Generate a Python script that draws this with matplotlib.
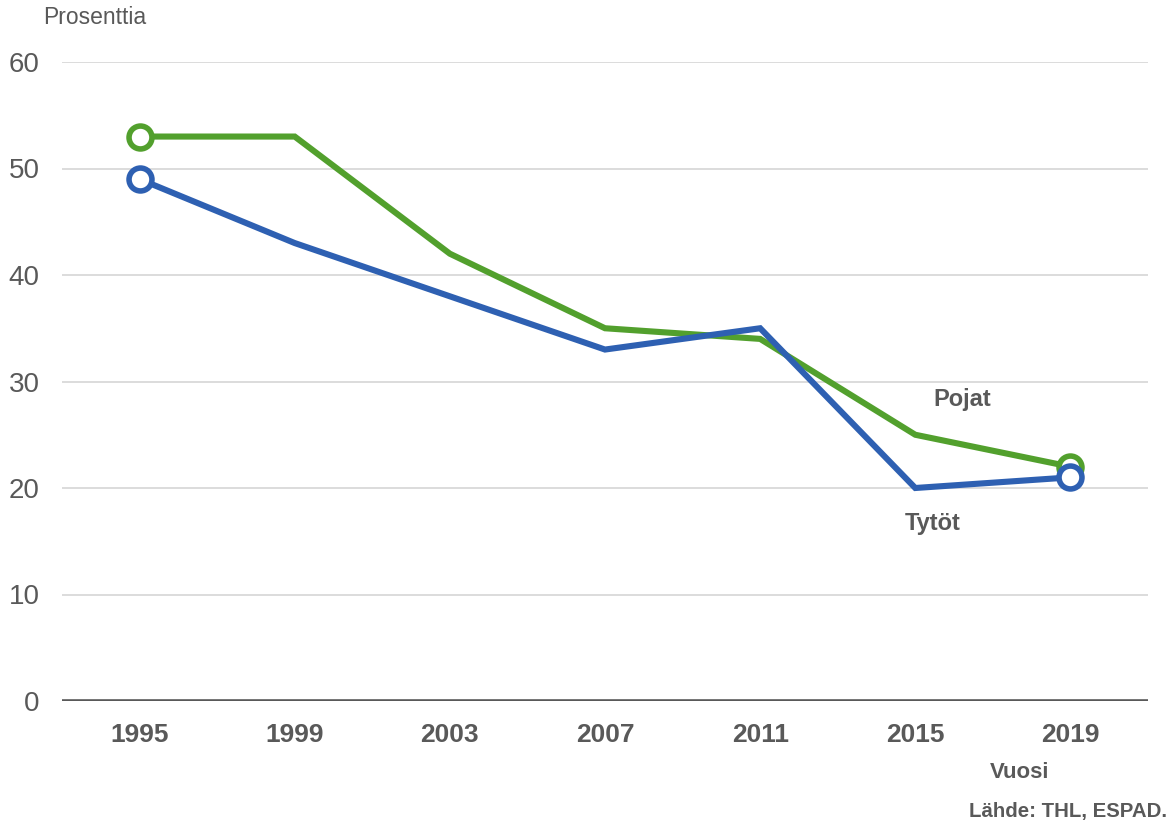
import matplotlib
matplotlib.use("Agg")
import matplotlib.pyplot as plt

years = ["1995", "1999", "2003", "2007", "2011", "2015", "2019"]
pojat = [53, 53, 42, 35, 34, 25, 22]
tytot = [49, 43, 38, 33, 35, 20, 21]
yticks = [0, 10, 20, 30, 40, 50, 60]

plt.rcParams['font.family'] = ['Liberation Sans', 'DejaVu Sans']
GREEN = "#52A02D"
BLUE = "#2E60B2"
TXT = "#595959"

fig = plt.figure(figsize=(11.73, 8.25), dpi=100)
ax = fig.add_axes([62/1173, (825-701)/825, (1148-62)/1173, (701-62)/825])

x = list(range(len(years)))
ax.set_xlim(-0.5, len(years) - 0.5)
ax.set_ylim(0, 60)

for yv in yticks[1:]:
    ax.axhline(yv, color="#d9d9d9", lw=1.3, zorder=0)
ax.axhline(0, color="#595959", lw=2.6, zorder=1)

ax.plot(x, pojat, color=GREEN, lw=4.4, solid_joinstyle="miter", marker="o",
        markevery=[0, len(x)-1], markersize=16.5, markerfacecolor="white",
        markeredgecolor=GREEN, markeredgewidth=4.0, zorder=3, clip_on=False)
ax.plot(x, tytot, color=BLUE, lw=4.4, solid_joinstyle="miter", marker="o",
        markevery=[0, len(x)-1], markersize=16.5, markerfacecolor="white",
        markeredgecolor=BLUE, markeredgewidth=4.0, zorder=4, clip_on=False)

for s in ax.spines.values():
    s.set_visible(False)

ax.set_yticks(yticks)
ax.set_yticklabels([str(v) for v in yticks], fontsize=20, color=TXT)
ax.set_xticks(x)
ax.set_xticklabels(years, fontsize=19, fontweight="bold", color=TXT)
ax.tick_params(axis="y", length=0, pad=16)
ax.tick_params(axis="x", length=0, pad=16)

ax.text(5.30, 28.3, "Pojat", fontsize=17, fontweight="bold", color=TXT,
        ha="center", va="center")
ax.text(5.11, 16.7, "Tytöt", fontsize=17, fontweight="bold", color=TXT,
        ha="center", va="center")

fig.text(43/1173, 1 - 18/825, "Prosenttia", fontsize=16.5, color=TXT,
         ha="left", va="center")
fig.text(1020/1173, 1 - 772/825, "Vuosi", fontsize=16, fontweight="bold",
         color=TXT, ha="center", va="center")
fig.text(1167/1173, 1 - 812/825, "Lähde: THL, ESPAD.", fontsize=14.7,
         fontweight="bold", color=TXT, ha="right", va="center")

fig.savefig("out.png", dpi=100, facecolor="white")
